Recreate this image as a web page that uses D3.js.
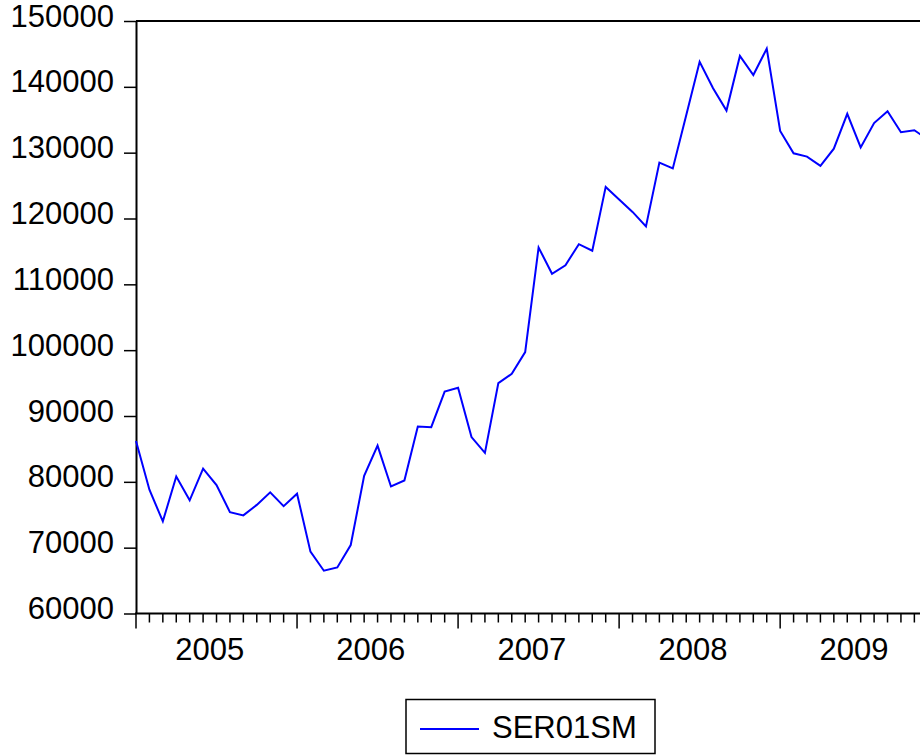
<!DOCTYPE html>
<html>
<head>
<meta charset="utf-8">
<script src="https://cdn.jsdelivr.net/npm/d3@7"></script>
<style>
  html, body { margin: 0; padding: 0; background: #fff; }
  svg { display: block; font-family: "Liberation Sans", Arial, sans-serif; }
</style>
</head>
<body>
<svg id="chart" width="920" height="756"></svg>
<script>
// ---- data ----
const years = ["2005", "2006", "2007", "2008", "2009"];
const months = [];
years.forEach(yy => { for (let m = 1; m <= 12; m++) months.push(yy + "M" + String(m).padStart(2, "0")); });
const seriesName = "SER01SM";
const ser01sm = [
  86200, 78800, 74000, 80800, 77200, 82000, 79500, 75400, 74900, 76500, 78400, 76300,
  78200, 69400, 66500, 67000, 70400, 80900, 85500, 79300, 80200, 88400, 88300, 93700,
  94300, 86800, 84400, 95000, 96400, 99700, 115600, 111600, 112900, 116100, 115100, 124800,
  122900, 121000, 118800, 128500, 127600, 135700, 143800, 139800, 136400, 144700, 141800, 145800,
  133300, 129900, 129400, 128000, 130600, 135900, 130800, 134500, 136300, 133100, 133400, 132000
];
const yTicks = [60000, 70000, 80000, 90000, 100000, 110000, 120000, 130000, 140000, 150000];

// ---- layout ----
const plotLeft = 136, plotTop = 21, plotBottom = 613.5, step = 13.42;
const fontSize = 31;
const svg = d3.select("#chart");

const x = d3.scalePoint().domain(months).range([plotLeft, plotLeft + step * (months.length - 1)]);
const plotRight = x(months[months.length - 1]) + step;
const y = d3.scaleLinear().domain([60000, 150000]).range([plotBottom, plotTop]);

// frame (top, right)
svg.append("line").attr("x1", plotLeft).attr("x2", plotRight).attr("y1", plotTop).attr("y2", plotTop)
  .attr("stroke", "#000").attr("stroke-width", 2);
svg.append("line").attr("x1", plotRight).attr("x2", plotRight).attr("y1", plotTop).attr("y2", plotBottom)
  .attr("stroke", "#000").attr("stroke-width", 2);

// y axis
const yAxis = svg.append("g").attr("transform", `translate(${plotLeft},0)`)
  .call(d3.axisLeft(y).tickValues(yTicks).tickSize(12).tickSizeOuter(0).tickFormat(d3.format("d")));
yAxis.select(".domain").attr("stroke", "#000").attr("stroke-width", 2);
yAxis.selectAll(".tick line").attr("stroke", "#000").attr("stroke-width", 1.5);
yAxis.selectAll(".tick text")
  .attr("x", -22).attr("dy", null).attr("y", 5)
  .attr("font-size", fontSize).attr("fill", "#000")
  .attr("font-family", "'Liberation Sans', Arial, sans-serif");

// x axis
const xAxis = svg.append("g").attr("transform", `translate(0,${plotBottom})`);
xAxis.append("line").attr("x1", plotLeft - 1).attr("x2", plotRight).attr("y1", 0).attr("y2", 0)
  .attr("stroke", "#000").attr("stroke-width", 2);
xAxis.selectAll("line.tick").data(months).enter().append("line")
  .attr("class", "tick")
  .attr("x1", d => x(d)).attr("x2", d => x(d))
  .attr("y1", 0).attr("y2", d => d.endsWith("M01") ? 15 : 9)
  .attr("stroke", "#000").attr("stroke-width", 1.5);
xAxis.selectAll("text.year").data(years).enter().append("text")
  .attr("class", "year")
  .attr("x", d => x(d + "M06") + step / 2)
  .attr("y", 46)
  .attr("text-anchor", "middle")
  .attr("font-size", fontSize)
  .attr("fill", "#000")
  .text(d => d);

// series line
const line = d3.line().x((d, i) => x(months[i])).y(d => y(d));
svg.append("path").datum(ser01sm)
  .attr("d", line)
  .attr("fill", "none")
  .attr("stroke", "#0000FF")
  .attr("stroke-width", 2)
  .attr("stroke-linejoin", "miter");

// legend
const lg = svg.append("g").attr("transform", "translate(406,699.5)");
lg.append("rect").attr("width", 249).attr("height", 54)
  .attr("fill", "#fff").attr("stroke", "#000").attr("stroke-width", 1.5);
lg.append("line").attr("x1", 14).attr("x2", 73).attr("y1", 29.5).attr("y2", 29.5)
  .attr("stroke", "#0000FF").attr("stroke-width", 2);
lg.append("text").attr("x", 86).attr("y", 38).attr("font-size", fontSize)
  .attr("fill", "#000").text(seriesName);
</script>
</body>
</html>
